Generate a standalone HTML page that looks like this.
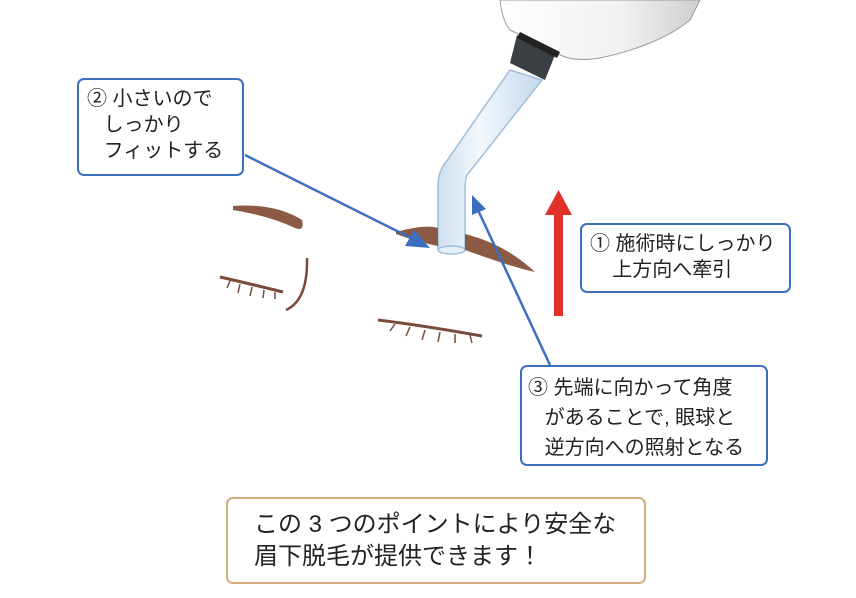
<!DOCTYPE html>
<html><head><meta charset="utf-8"><style>
body{margin:0;width:856px;height:598px;background:#fff;position:relative;overflow:hidden;font-family:"Liberation Sans","Noto Sans CJK JP",sans-serif;color:#222}
.b{position:absolute;border:2px solid #3b6fc0;border-radius:7px;background:#fff;font-size:20px;line-height:26px;box-sizing:border-box;white-space:nowrap}
</style></head><body>
<svg width="856" height="598" style="position:absolute;left:0;top:0">
<defs>
<linearGradient id="g1" x1="0" x2="1"><stop offset="0" stop-color="#fff"/><stop offset="0.6" stop-color="#f2f2f2"/><stop offset="1" stop-color="#cfcfcf"/></linearGradient>
<linearGradient id="t" x1="0" x2="1"><stop offset="0" stop-color="#cfe0ee"/><stop offset="0.4" stop-color="#f3f8fc"/><stop offset="1" stop-color="#c4d8ea"/></linearGradient>
</defs>
<path d="M500 0 L700 0 L690 20 Q660 45 600 58 Q575 62 560 55 L510 30 Q502 20 500 0Z" fill="url(#g1)" stroke="#9a9a9a" stroke-width="1"/>
<path d="M517 35 L555 55 L545 80 L510 63Z" fill="#3a3f44"/>
<path d="M520 32 L560 52 L557 58 L517 38Z" fill="#222"/>
<path d="M510 70 L542 80 L467 175 Q465 180 465 190 L465 250 L438 250 L438 185 Q438 172 446 162Z" fill="url(#t)" stroke="#9fbfdc" stroke-width="1.5"/>
<ellipse cx="451.5" cy="250" rx="13.5" ry="4" fill="#e6eff7" stroke="#9fbfdc" stroke-width="1.5"/>
<path d="M233 206 Q275 203 302 220 Q305 232 295 228 Q270 216 233 210Z" fill="#8a5a45"/>
<path d="M396 232 Q425 224 438 228 L438 246 Q418 242 396 234Z" fill="#8a5a45"/>
<path d="M465 234 Q505 244 535 272 Q515 268 465 250Z" fill="#8a5a45"/>
<path d="M220 277 Q255 285 283 292" stroke="#7a4a3a" stroke-width="3" fill="none"/>
<path d="M307 258 Q308 300 286 310" stroke="#7a4a3a" stroke-width="2.5" fill="none"/>
<path d="M378 320 Q420 325 482 336" stroke="#7a4a3a" stroke-width="3" fill="none"/>
<g stroke="#7a4a3a" stroke-width="1.5">
<line x1="230" y1="281" x2="227" y2="288"/><line x1="240" y1="284" x2="238" y2="293"/><line x1="252" y1="287" x2="250" y2="296"/><line x1="264" y1="290" x2="263" y2="298"/><line x1="275" y1="292" x2="275" y2="299"/>
<line x1="395" y1="324" x2="390" y2="331"/><line x1="410" y1="327" x2="406" y2="336"/><line x1="425" y1="330" x2="422" y2="340"/><line x1="440" y1="332" x2="438" y2="342"/><line x1="455" y1="334" x2="455" y2="343"/><line x1="470" y1="335" x2="472" y2="343"/>
</g>
<g stroke="#3b6fc0" stroke-width="2.5" fill="#3b6fc0">
<line x1="245" y1="155" x2="415" y2="240"/>
<path d="M430 248 L405 246 L414 230Z" stroke="none"/>
<line x1="550" y1="365" x2="478" y2="210"/>
<path d="M472 195 L472 215 L486 209Z" stroke="none"/>
</g>
<rect x="554" y="214" width="9" height="102" fill="#e1302a"/>
<path d="M558.5 190 L572 215 L545 215Z" fill="#e1302a"/>
</svg>
<div class="b" style="left:77px;top:78px;width:167px;height:98px;padding:6px 0 0 8px">② 小さいので<br>&nbsp;&nbsp;&nbsp;しっかり<br>&nbsp;&nbsp;&nbsp;フィットする</div>
<div class="b" style="left:580px;top:223px;width:211px;height:70px;padding:6px 0 0 8px">① 施術時にしっかり<br>&nbsp;&nbsp;&nbsp;&nbsp;上方向へ牽引</div>
<div class="b" style="left:520px;top:365px;width:248px;height:101px;padding:6px 0 0 6px;line-height:30px">③ 先端に向かって角度<br>&nbsp;&nbsp;&nbsp;があることで, 眼球と<br>&nbsp;&nbsp;&nbsp;逆方向への照射となる</div>
<div class="b" style="left:226px;top:497px;width:420px;height:87px;border-color:#d6ae7b;font-size:24px;line-height:32px;padding:10px 0 0 26px">この 3 つのポイントにより安全な<br>眉下脱毛が提供できます！</div>
</body></html>
